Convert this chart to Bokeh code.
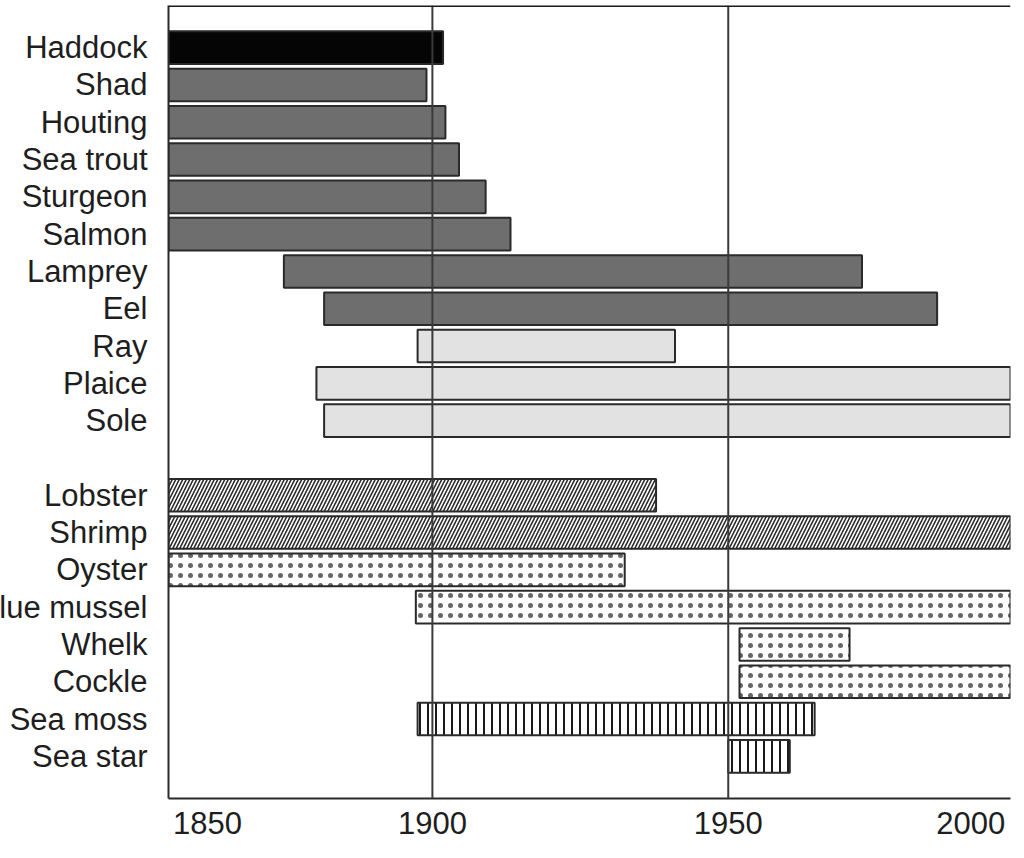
from bokeh.plotting import figure
from bokeh.models import FactorRange, Range1d, FixedTicker, Span, ColumnDataSource
from bokeh.embed import file_html
from bokeh.resources import INLINE

# ---- data ----
species = ["Haddock", "Shad", "Houting", "Sea trout", "Sturgeon", "Salmon",
           "Lamprey", "Eel", "Ray", "Plaice", "Sole",
           "Lobster", "Shrimp", "Oyster", "Blue mussel", "Whelk", "Cockle",
           "Sea moss", "Sea star"]
start_year = [1850, 1850, 1850, 1850, 1850, 1850,
              1874.9, 1881.7, 1897.5, 1880.4, 1881.7,
              1850, 1850, 1850, 1897.2, 1951.9, 1951.9,
              1897.5, 1950.0]
end_year = [1901.8, 1899.0, 1902.2, 1904.5, 1909.0, 1913.2,
            1972.6, 1985.3, 1941.0, 2000, 2000,
            1937.8, 2000, 1932.5, 2000, 1970.5, 2000,
            1964.6, 1960.4]
group = ["black", "dark", "dark", "dark", "dark", "dark",
         "dark", "dark", "light", "light", "light",
         "diag", "diag", "dots", "dots", "dots", "dots",
         "vert", "vert"]
gap_label = " "
tick_years = [1850, 1900, 1950, 2000]
ref_years = [1900, 1950]

# ---- layout ----
rows = species[:11] + [gap_label] + species[11:]
x_lo, x_hi = 1855.4, 1997.7
pad = 0.63

styles = {
    "black": dict(fill_color="#050505"),
    "dark": dict(fill_color="#6e6e6e"),
    "light": dict(fill_color="#e2e2e2"),
    "diag": dict(fill_color="white", hatch_pattern="right_diagonal_line",
                 hatch_color="#2a2a2a", hatch_scale=7, hatch_weight=1.6),
    "dots": dict(fill_color="white", hatch_pattern="dot",
                 hatch_color="#666666", hatch_scale=10, hatch_weight=0.8),
    "vert": dict(fill_color="white", hatch_pattern="vertical_line",
                 hatch_color="#1a1a1a", hatch_scale=8, hatch_weight=2),
}

p = figure(width=1049, height=842, output_backend="svg", toolbar_location=None,
           y_range=FactorRange(factors=rows[::-1], range_padding=pad,
                               range_padding_units="absolute"),
           x_range=Range1d(x_lo, x_hi),
           min_border_left=0, min_border_right=14, min_border_top=5,
           min_border_bottom=44)
p.styles = {"margin-left": "-25px"}
p.outline_line_color = None
p.background_fill_color = "white"
p.border_fill_color = "white"
p.grid.visible = False

for g, st in styles.items():
    idx = [i for i, gg in enumerate(group) if gg == g]
    src = ColumnDataSource(dict(y=[species[i] for i in idx],
                                left=[start_year[i] for i in idx],
                                right=[end_year[i] for i in idx]))
    p.hbar(y="y", left="left", right="right", height=0.875, source=src,
           line_color="#2a2a2a", line_width=2, **st)

for yr in ref_years:
    p.add_layout(Span(location=yr, dimension="height", line_color="#3a3a3a",
                      line_width=2))
# top border of the frame
p.add_layout(Span(location=len(rows) + pad, dimension="width",
                  line_color="#1a1a1a", line_width=3))

# tick labels, nudged inside the frame at the edges as in the original
tick_pos = [int(round(min(max(t, x_lo + 6.5), x_hi - 6.5))) for t in tick_years]
p.xaxis.ticker = FixedTicker(ticks=tick_pos)
p.xaxis.major_label_overrides = {tp: str(t) for tp, t in zip(tick_pos, tick_years)}

for ax in (p.xaxis[0], p.yaxis[0]):
    ax.axis_line_color = "#2a2a2a"
    ax.axis_line_width = 2
    ax.major_tick_line_color = None
    ax.minor_tick_line_color = None
    ax.major_tick_out = 0
    ax.major_tick_in = 0
    ax.major_label_text_font = "Liberation Sans"
    ax.major_label_text_font_size = "31px"
    ax.major_label_text_color = "#1e1e1e"
p.xaxis.major_label_standoff = 13
p.yaxis.major_label_standoff = 21

open("out.html", "w").write(file_html(p, INLINE))
